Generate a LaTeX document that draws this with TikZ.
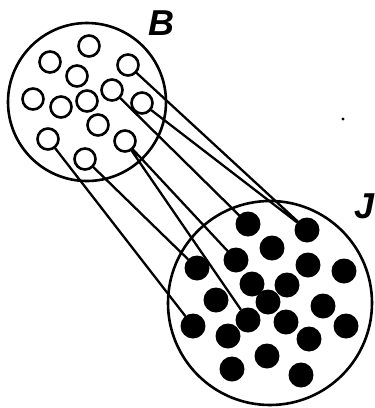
\documentclass[tikz,border=0pt]{standalone}
\usepackage{fontspec}
\setsansfont{Liberation Sans}
\tikzset{
	hollow/.style={circle,draw,line width=2.6pt,minimum size=21pt,inner sep=0pt},
	solid/.style={circle,fill,minimum size=25pt,inner sep=0pt},
	bigset/.style={circle,draw,line width=2.6pt,inner sep=0pt},
	setname/.style={font=\sffamily\bfseries\itshape\fontsize{36}{36}\selectfont,inner sep=0pt}
}
\begin{document}
\begin{tikzpicture}[x=1pt,y=-1pt,line join = round, line cap = round]
	\useasboundingbox (0,0) rectangle (375,408);
	%Vẽ hai tập hợp
	\node[bigset,minimum size=158pt] (B) at (87,102) {};
	\node[bigset,minimum size=204pt] (J) at (270,303) {};
	\node[setname] (nameB) at (161,23) {B};
	\node[setname,anchor=east] (nameJ) at (375,206) {J};
	%Các phần tử của B
	\foreach \p [count=\i] in {(89,46),(50,62),(128,65),(77,76),(33,99),(61,107),(87,101),
		(112,90),(142,103),(98,125),(48,139),(125,141),(85,159)}
		\node[hollow] (b\i) at \p {};
	%Các phần tử của J
	\foreach \p [count=\i] in {(248,224),(307,230),(272,248),(197,268),(236,260),(308,265),
		(344,271),(252,284),(287,285),(268,302),(216,300),(323,306),(193,326),(248,320),
		(286,322),(346,326),(228,336),(309,339),(267,356),(232,369),(301,375)}
		\node[solid] (j\i) at \p {};
	%Nối các phần tử
	\draw[line width=2.3pt] (b3)--(j2) (b9)--(j2) (b8)--(j1) (b12)--(j5) (b12)--(j14)
		(b13)--(j4) (b11)--(j13);
	\fill (343,119) circle (1.7);
\end{tikzpicture}
\end{document}
